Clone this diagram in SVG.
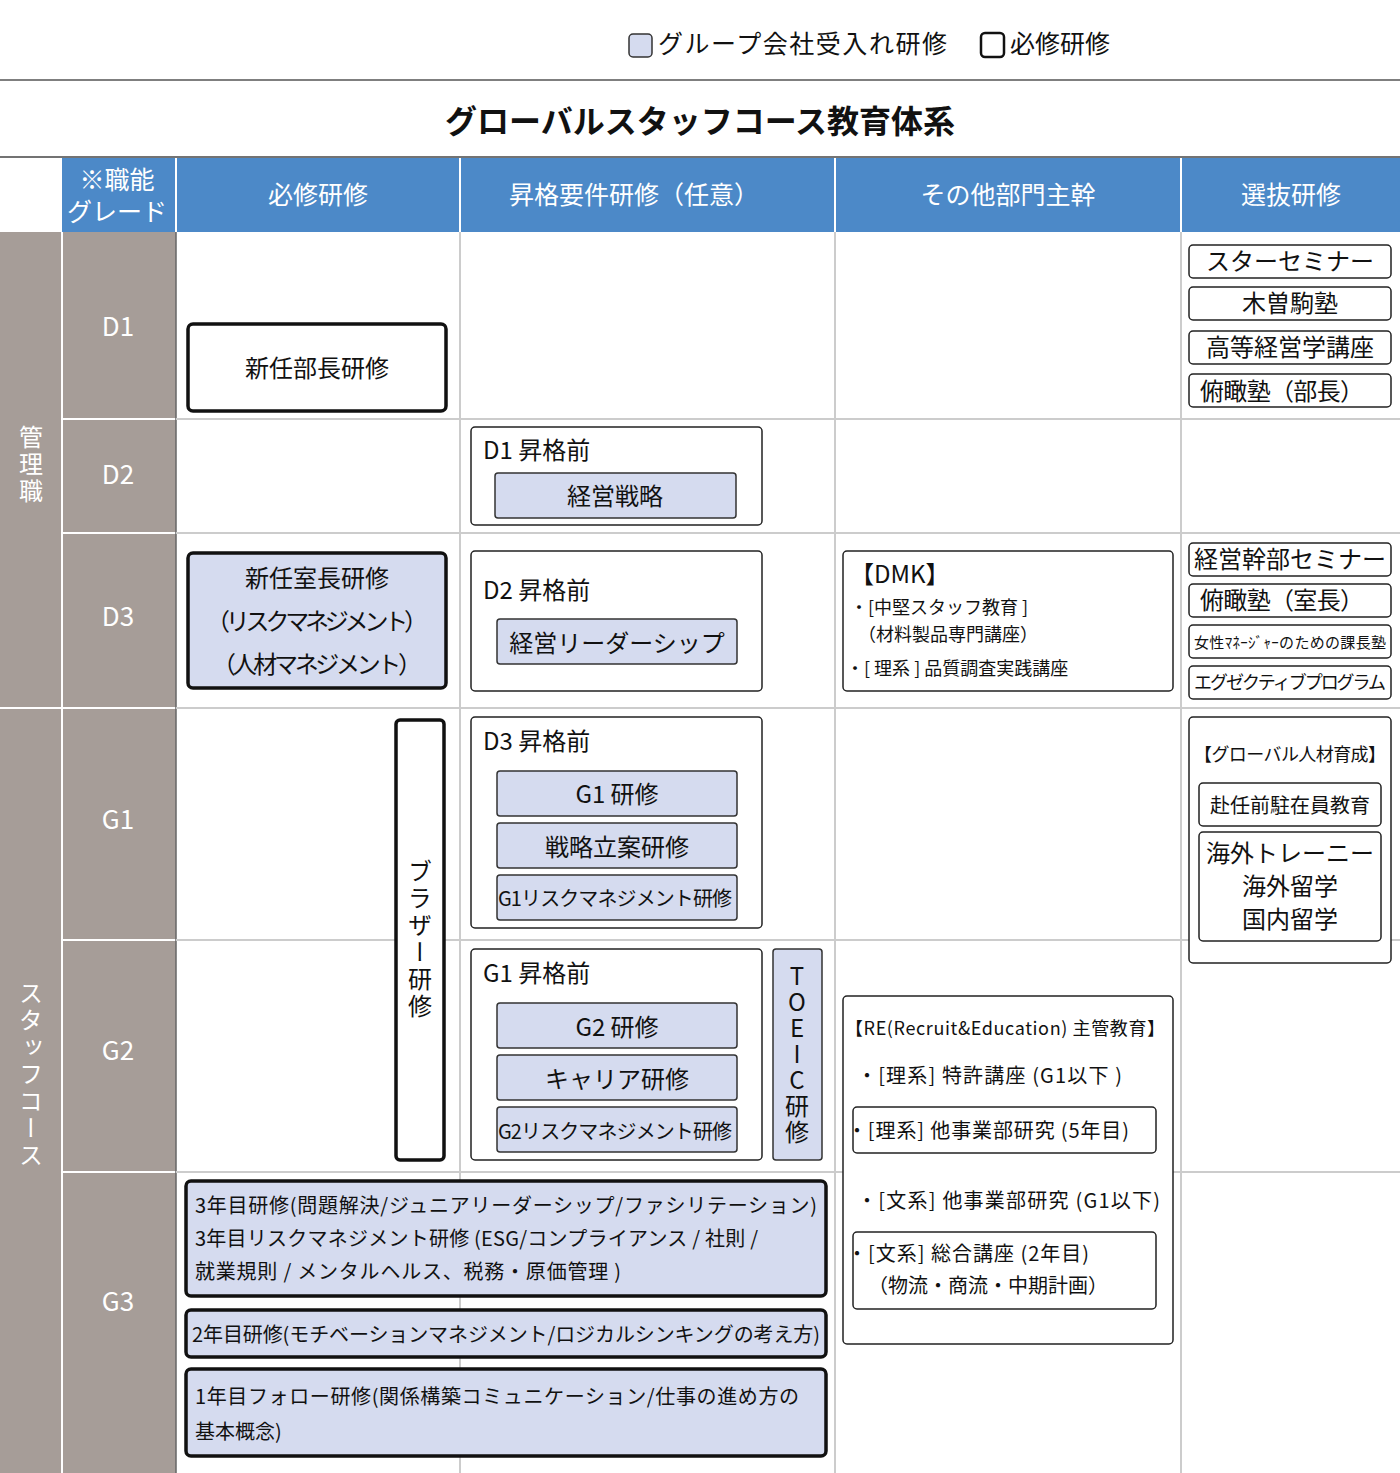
<svg xmlns="http://www.w3.org/2000/svg" width="1400" height="1473" viewBox="0 0 1400 1473">
<style>
text{font-family:"Noto Sans CJK JP","Noto Sans",sans-serif;fill:#111}
.hd{font-size:25px;fill:#fff}
.gr{font-size:26px;fill:#fff}
.vt{writing-mode:vertical-rl;text-orientation:upright}
.vg{font-size:24px;fill:#fff;letter-spacing:3px}
.b{fill:#fff;stroke:#222;stroke-width:1.5}
.bb{fill:#fff;stroke:#111;stroke-width:3.5}
.f{fill:#d5dbef;stroke:#333;stroke-width:1.5}
.fb{fill:#d5dbef;stroke:#111;stroke-width:3.5}
.gl{stroke:#ccc;stroke-width:2}
.t24{font-size:24px}
.t20{font-size:20px}
.t18{font-size:18px}
</style>
<rect width="1400" height="1473" fill="#fff"/>
<g id="legend">
<rect x="629" y="34" width="23" height="23" rx="4" fill="#d5dbef" stroke="#333" stroke-width="1.5"/>
<text x="658" y="53" font-size="25" textLength="289">グループ会社受入れ研修</text>
<rect x="981" y="33" width="23" height="24" rx="4" fill="#fff" stroke="#111" stroke-width="2.5"/>
<text x="1010" y="53" font-size="25">必修研修</text>
</g>
<line x1="0" y1="80" x2="1400" y2="80" stroke="#555" stroke-width="1.5"/>
<text x="700" y="133" font-size="32" font-weight="bold" text-anchor="middle">グローバルスタッフコース教育体系</text>
<g id="header">
<line x1="0" y1="157" x2="1400" y2="157" stroke="#444" stroke-width="1.5"/>
<rect x="62" y="158" width="1338" height="74" fill="#4c89c8"/>
<g stroke="#fff" stroke-width="2"><line x1="176" y1="158" x2="176" y2="232"/><line x1="460" y1="158" x2="460" y2="232"/><line x1="835" y1="158" x2="835" y2="232"/><line x1="1181" y1="158" x2="1181" y2="232"/></g>
<text class="hd" x="117" y="189" text-anchor="middle">※職能</text>
<text class="hd" x="117" y="221" text-anchor="middle">グレード</text>
<text class="hd" x="318" y="204" text-anchor="middle">必修研修</text>
<text class="hd" x="634" y="204" text-anchor="middle">昇格要件研修（任意）</text>
<text class="hd" x="1008" y="204" text-anchor="middle">その他部門主幹</text>
<text class="hd" x="1291" y="204" text-anchor="middle">選抜研修</text>
</g>
<g id="grid">
<rect x="0" y="232" width="176" height="1241" fill="#a69d98"/>
<g stroke="#fff" stroke-width="2"><line x1="62" y1="232" x2="62" y2="1473"/><line x1="0" y1="708" x2="62" y2="708"/>
<line x1="62" y1="419" x2="176" y2="419"/><line x1="62" y1="533" x2="176" y2="533"/><line x1="62" y1="708" x2="176" y2="708"/><line x1="62" y1="940" x2="176" y2="940"/><line x1="62" y1="1172" x2="176" y2="1172"/></g>
<line x1="176" y1="232" x2="176" y2="1473" stroke="#666" stroke-width="1.5"/>
<g class="gl"><line x1="460" y1="232" x2="460" y2="1473"/><line x1="835" y1="232" x2="835" y2="1473"/><line x1="1181" y1="232" x2="1181" y2="1473"/>
<line x1="176" y1="419" x2="1400" y2="419"/><line x1="176" y1="533" x2="1400" y2="533"/><line x1="176" y1="708" x2="1400" y2="708"/><line x1="176" y1="940" x2="1400" y2="940"/><line x1="176" y1="1172" x2="1400" y2="1172"/></g>
<text class="vt vg" x="31" y="465" text-anchor="middle">管理職</text>
<text class="vt vg" x="31" y="1075" text-anchor="middle">スタッフコース</text>
<text class="gr" x="118" y="336" text-anchor="middle">D1</text>
<text class="gr" x="118" y="484" text-anchor="middle">D2</text>
<text class="gr" x="118" y="626" text-anchor="middle">D3</text>
<text class="gr" x="118" y="829" text-anchor="middle">G1</text>
<text class="gr" x="118" y="1060" text-anchor="middle">G2</text>
<text class="gr" x="118" y="1311" text-anchor="middle">G3</text>
</g>
<g id="n-bucho"><rect class="bb" x="188" y="324" width="258" height="87" rx="5"/><text class="t24" x="317" y="377" text-anchor="middle">新任部長研修</text></g>
<g id="n-shitsucho"><rect class="fb" x="188" y="553" width="258" height="135" rx="5"/>
<text class="t24" x="317" y="587" text-anchor="middle">新任室長研修</text>
<text class="t24" x="317" y="630" text-anchor="middle" textLength="222">（リスクマネジメント）</text>
<text class="t24" x="317" y="673" text-anchor="middle" textLength="210">（人材マネジメント）</text></g>
<g id="n-brother"><rect class="bb" x="396" y="720" width="48" height="440" rx="4"/>
<text class="vt t24" x="420" y="940" text-anchor="middle" style="text-orientation:mixed;letter-spacing:3px">ブラザー研修</text></g>
<g id="n-d1pre"><rect class="b" x="471" y="427" width="291" height="98" rx="4"/><text class="t24" x="483" y="459">D1 昇格前</text>
<rect class="f" x="495" y="473" width="241" height="45" rx="3"/><text class="t24" x="615" y="505" text-anchor="middle">経営戦略</text></g>
<g id="n-d2pre"><rect class="b" x="471" y="551" width="291" height="140" rx="4"/><text class="t24" x="483" y="599">D2 昇格前</text>
<rect class="f" x="497" y="619" width="240" height="45" rx="3"/><text class="t24" x="617" y="652" text-anchor="middle">経営リーダーシップ</text></g>
<g id="n-d3pre"><rect class="b" x="471" y="717" width="291" height="211" rx="4"/><text class="t24" x="483" y="750">D3 昇格前</text>
<rect class="f" x="497" y="771" width="240" height="45" rx="3"/><text class="t24" x="617" y="803" text-anchor="middle">G1 研修</text>
<rect class="f" x="497" y="823" width="240" height="45" rx="3"/><text class="t24" x="617" y="856" text-anchor="middle">戦略立案研修</text>
<rect class="f" x="497" y="875" width="240" height="45" rx="3"/><text class="t20" x="615" y="906" text-anchor="middle" textLength="234">G1リスクマネジメント研修</text></g>
<g id="n-g1pre"><rect class="b" x="471" y="949" width="291" height="211" rx="4"/><text class="t24" x="483" y="982">G1 昇格前</text>
<rect class="f" x="497" y="1003" width="240" height="45" rx="3"/><text class="t24" x="617" y="1036" text-anchor="middle">G2 研修</text>
<rect class="f" x="497" y="1055" width="240" height="45" rx="3"/><text class="t24" x="617" y="1088" text-anchor="middle">キャリア研修</text>
<rect class="f" x="497" y="1107" width="240" height="45" rx="3"/><text class="t20" x="615" y="1139" text-anchor="middle" textLength="234">G2リスクマネジメント研修</text></g>
<g id="n-toeic"><rect class="f" x="773" y="949" width="49" height="211" rx="3"/>
<text class="vt t24" x="797" y="1055" text-anchor="middle" style="letter-spacing:2px">TOEIC研修</text></g>
<g id="n-dmk"><rect class="b" x="843" y="551" width="330" height="140" rx="4"/>
<text class="t24" x="850" y="583">【DMK】</text>
<text class="t18" x="850" y="614">・[中堅スタッフ教育 ]</text>
<text class="t18" x="858" y="641">（材料製品専門講座）</text>
<text class="t18" x="846" y="675">・[ 理系 ] 品質調査実践講座</text></g>
<g id="n-re"><rect class="b" x="843" y="996" width="330" height="348" rx="4"/>
<text class="t18" x="845" y="1035" textLength="320">【RE(Recruit&amp;Education) 主管教育】</text>
<text class="t20" x="857" y="1083" textLength="265">・[理系] 特許講座 (G1以下 )</text>
<rect class="b" x="853" y="1107" width="303" height="46" rx="4" stroke-width="2"/>
<text class="t20" x="847" y="1138" textLength="282">・[理系] 他事業部研究 (5年目)</text>
<text class="t20" x="857" y="1208" textLength="303">・[文系] 他事業部研究 (G1以下)</text>
<rect class="b" x="853" y="1232" width="303" height="77" rx="4" stroke-width="2"/>
<text class="t20" x="847" y="1261" textLength="242">・[文系] 総合講座 (2年目)</text>
<text class="t20" x="868" y="1293">（物流・商流・中期計画）</text></g>
<g id="n-sel1" text-anchor="middle">
<rect class="b" x="1189" y="245" width="202" height="33" rx="4"/><text class="t24" x="1290" y="270">スターセミナー</text>
<rect class="b" x="1189" y="287" width="202" height="33" rx="4"/><text class="t24" x="1290" y="312">木曽駒塾</text>
<rect class="b" x="1189" y="331" width="202" height="33" rx="4"/><text class="t24" x="1290" y="356">高等経営学講座</text>
<rect class="b" x="1189" y="374" width="202" height="33" rx="4"/><text class="t24" x="1282" y="400" textLength="164">俯瞰塾（部長）</text>
</g>
<g id="n-sel2" text-anchor="middle">
<rect class="b" x="1189" y="543" width="202" height="33" rx="4"/><text class="t24" x="1290" y="568" textLength="192">経営幹部セミナー</text>
<rect class="b" x="1189" y="584" width="202" height="33" rx="4"/><text class="t24" x="1282" y="609" textLength="164">俯瞰塾（室長）</text>
<rect class="b" x="1189" y="625" width="202" height="33" rx="4"/><text x="1290" y="648" font-size="15" textLength="192">女性ﾏﾈｰｼﾞｬｰのための課長塾</text>
<rect class="b" x="1189" y="666" width="202" height="33" rx="4"/><text class="t18" x="1290" y="689" textLength="192">エグゼクティブプログラム</text>
</g>
<g id="n-global" text-anchor="middle"><rect class="b" x="1189" y="717" width="202" height="246" rx="4"/>
<text class="t18" x="1290" y="761" textLength="192">【グローバル人材育成】</text>
<rect class="b" x="1199" y="783" width="182" height="43" rx="4"/><text class="t20" x="1290" y="813">赴任前駐在員教育</text>
<rect class="b" x="1199" y="832" width="182" height="109" rx="4"/>
<text class="t24" x="1290" y="862">海外トレーニー</text><text class="t24" x="1290" y="895">海外留学</text><text class="t24" x="1290" y="928">国内留学</text></g>
<g id="n-3nen"><rect class="fb" x="186" y="1181" width="640" height="115" rx="5"/>
<text class="t20" x="195" y="1213" textLength="622">3年目研修(問題解決/ジュニアリーダーシップ/ファシリテーション)</text>
<text class="t20" x="195" y="1246" textLength="563">3年目リスクマネジメント研修 (ESG/コンプライアンス / 社則 /</text>
<text class="t20" x="195" y="1279" textLength="426">就業規則 / メンタルヘルス、税務・原価管理 )</text></g>
<g id="n-2nen"><rect class="fb" x="186" y="1310" width="640" height="47" rx="5"/>
<text class="t20" x="192" y="1342" textLength="628">2年目研修(モチベーションマネジメント/ロジカルシンキングの考え方)</text></g>
<g id="n-1nen"><rect class="fb" x="186" y="1369" width="640" height="87" rx="5"/>
<text class="t20" x="195" y="1404" textLength="604">1年目フォロー研修(関係構築コミュニケーション/仕事の進め方の</text>
<text class="t20" x="195" y="1439">基本概念)</text></g>
<g id="connectors"/>
</svg>
